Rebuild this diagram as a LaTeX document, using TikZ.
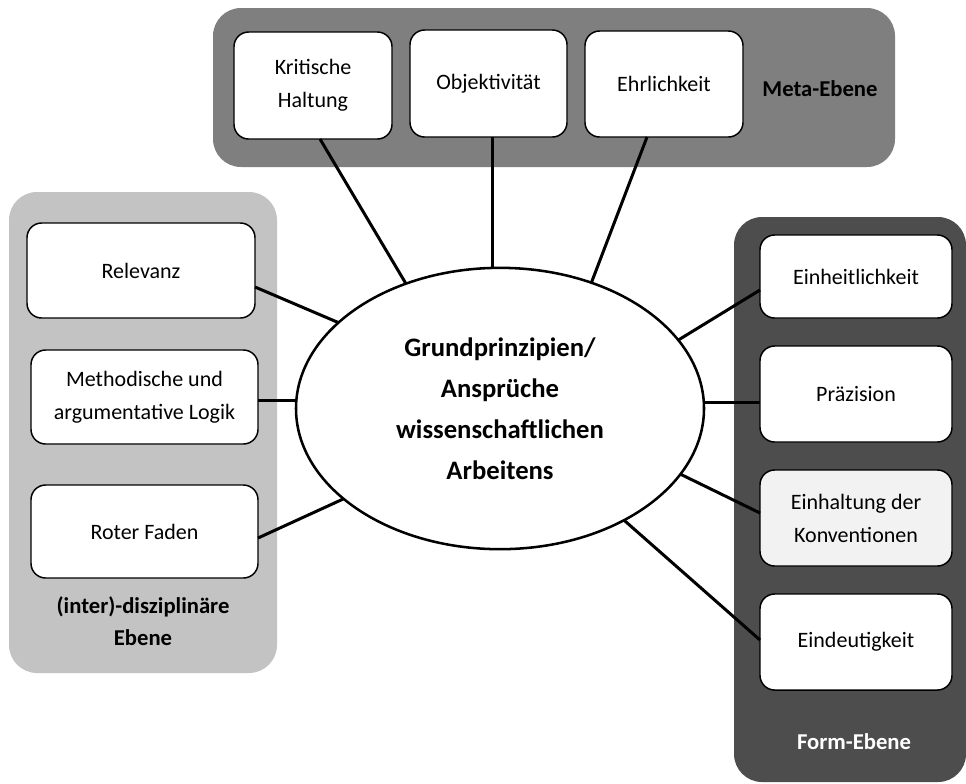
\documentclass[tikz,border=0pt]{standalone}
\usepackage{fontspec}
\setmainfont{Carlito}
\usetikzlibrary{shapes.geometric,calc}
\definecolor{metagray}{HTML}{7F7F7F}
\definecolor{leftgray}{HTML}{C3C3C3}
\definecolor{formgray}{HTML}{4D4D4D}
\definecolor{paleface}{HTML}{F2F2F2}
\tikzset{
  panel/.style={rounded corners=21pt},
  item/.style={draw=black, line width=1.1pt, fill=white, rounded corners=11pt,
    align=center, inner sep=0pt, outer sep=0pt,
    font={\fontsize{16.5pt}{24.75pt}\selectfont}},
  hub/.style={ellipse, draw=black, line width=1.9pt, fill=white, align=center,
    inner sep=0pt, outer sep=0pt, minimum width=306pt, minimum height=211pt,
    font={\bfseries\fontsize{20pt}{30.75pt}\selectfont}},
  tag/.style={align=center, font={\bfseries\fontsize{17pt}{24pt}\selectfont}},
  link/.style={line width=2.25pt, black},
}
\begin{document}
\begin{tikzpicture}[x=0.75pt,y=-0.75pt]
\useasboundingbox (0,0) rectangle (966,783);
% panels
\fill[metagray, panel] (213,8) rectangle (895,167);
\fill[leftgray, panel] (9,192) rectangle (277,673);
\fill[formgray, panel] (734,217) rectangle (966,782);
% hub
\node[hub] (ell) at (500,408.5) {Grundprinzipien/\\Ansprüche\\wissenschaftlichen\\Arbeitens};
% meta boxes
\node[item, minimum width=118.5pt, minimum height=80.25pt] (kh) at (313,85.5) {Kritische\\Haltung};
\node[item, minimum width=117.75pt, minimum height=80.25pt] (ob) at (488.5,83.5) {Objektivität};
\node[item, minimum width=118.5pt, minimum height=79.5pt] (eh) at (664,84) {Ehrlichkeit};
\node[tag] (metalabel) at (820,89) {Meta-Ebene};
% left boxes
\node[item, minimum width=171pt, minimum height=71.25pt] (rel) at (141,270.5) {Relevanz};
\node[item, minimum width=170.25pt, minimum height=70.5pt] (meth) at (144.5,397) {Methodische und\\argumentative Logik};
\node[item, minimum width=170.25pt, minimum height=69.75pt] (rot) at (144.5,531.5) {Roter Faden};
\node[tag] (leftlabel) at (143,621) {(inter)-disziplinäre\\Ebene};
% right boxes
\node[item, minimum width=144pt, minimum height=62.25pt] (ein) at (856,276.5) {Einheitlichkeit};
\node[item, minimum width=144pt, minimum height=72pt] (pra) at (856,394) {Präzision};
\node[item, fill=paleface, minimum width=144pt, minimum height=72pt] (einh) at (856,518) {Einhaltung der\\Konventionen};
\node[item, minimum width=144pt, minimum height=72pt] (eind) at (856,642) {Eindeutigkeit};
\node[tag, text=white] (formlabel) at (854,742) {Form-Ebene};
% connectors
\coordinate (khs) at ($(kh.south)+(7,0)$);
\coordinate (obs) at ($(ob.south)+(3.5,0)$);
\coordinate (ehs) at ($(eh.south)+(-17,0)$);
\coordinate (rels) at ($(rel.east)+(0,16.5)$);
\coordinate (meths) at ($(meth.east)+(0,3)$);
\coordinate (rots) at ($(rot.east)+(0,6.5)$);
\coordinate (eins) at ($(ein.west)+(0,13.5)$);
\coordinate (pras) at ($(pra.west)+(0,8)$);
\coordinate (einhs) at ($(einh.west)+(0,-5)$);
\coordinate (einds) at ($(eind.west)+(0,-2)$);
\draw[link] (khs) -- (ell.127);
\draw[link] (obs) -- (obs |- ell.north);
\draw[link] (ehs) -- (ell.54.6);
\draw[link] (rels) -- (ell.152.2);
\draw[link] (meths) -- (meths -| ell.west);
\draw[link] (rots) -- (ell.210.2);
\draw[link] (eins) -- (ell.21.6);
\draw[link] (pras) -- (pras -| ell.east);
\draw[link] (einhs) -- (ell.-20.3);
\draw[link] (einds) -- (ell.-42.2);
\end{tikzpicture}
\end{document}
